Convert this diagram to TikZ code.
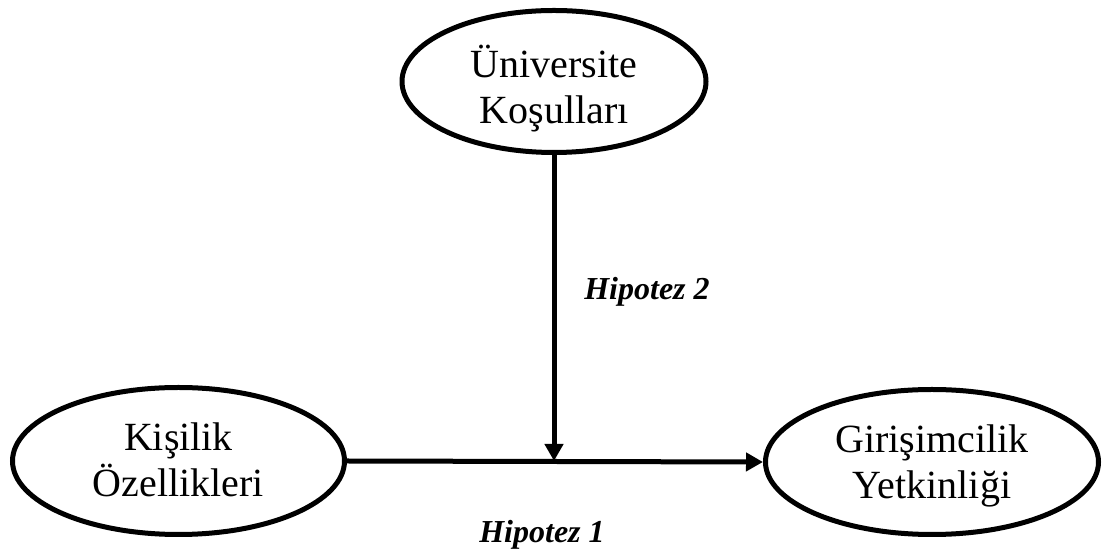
\documentclass[tikz,border=0pt]{standalone}
\usepackage{fontspec}
\setmainfont{Liberation Serif}
\usepackage{tikz}
\usetikzlibrary{
  positioning,
  shapes.geometric,
  arrows.meta
}

\begin{document}
\begin{tikzpicture}[x=1pt,y=1pt,>={Triangle[length=17pt,width=18pt]},
            oval/.style={ellipse,draw,line width=5pt,inner sep=0pt},
            ovaltext/.style={align=center,inner sep=0pt,font=\fontsize{40}{46}\selectfont},
            hipotez/.style={font=\fontsize{32}{36}\selectfont\bfseries\itshape,anchor=base}]
            \useasboundingbox (0,0) rectangle (1103,556);

            \node[oval,minimum width=304pt,minimum height=142pt] (kosul) at (554,474.5) {};
            \node[oval,minimum width=332pt,minimum height=147pt] (kisilik) at (178.5,95) {};
            \node[oval,minimum width=333pt,minimum height=145pt] (girisim) at (932,94) {};

            \node[ovaltext] (kosultext) at ([yshift=-7pt]kosul.center) {Üniversite\\Koşulları};
            \node[ovaltext] (kisiliktext) at ([yshift=1pt]kisilik.center) {Kişilik\\Özellikleri};
            \node[ovaltext] (girisimtext) at ([yshift=-4pt]girisim.center) {Girişimcilik\\Yetkinliği};

            \draw[->,line width=5pt] (kisilik.east) -- (girisim.west);
            \draw[->,line width=5pt] (kosul.south) -- (kosul.south |- kisilik.east);

            \node[hipotez] (hip2) at (647,256) {Hipotez 2};
            \node[hipotez] (hip1) at (542,13) {Hipotez 1};
        \end{tikzpicture}
\end{document}
